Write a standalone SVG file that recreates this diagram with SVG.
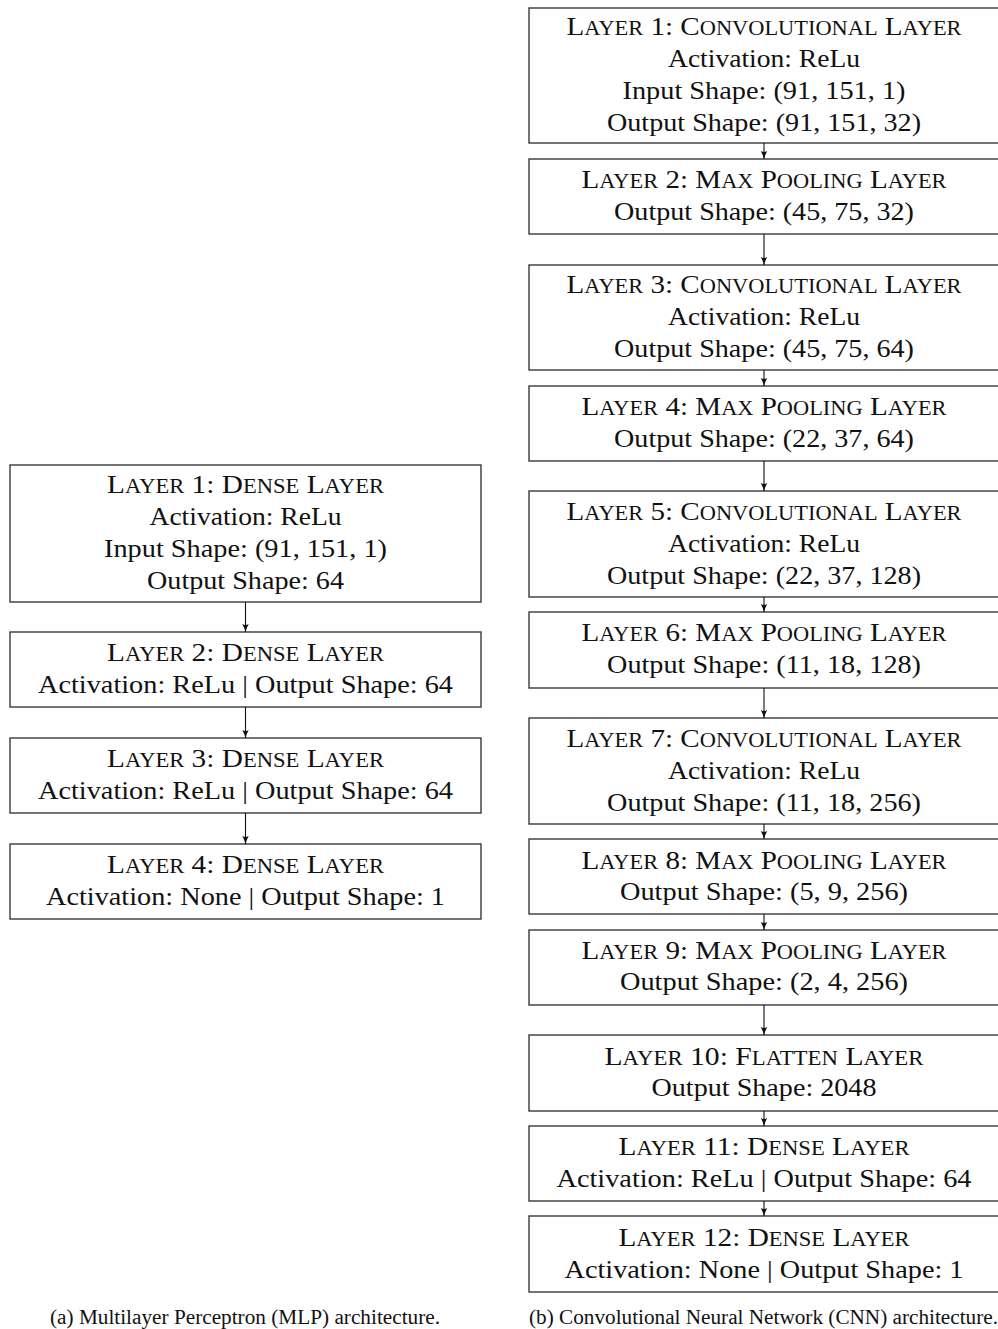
<svg xmlns="http://www.w3.org/2000/svg" width="998" height="1329" viewBox="0 0 998 1329">
<style>
.box{fill:#fff;stroke:#3a3a3a;stroke-width:1.4}
text{font-family:"Liberation Serif","Times New Roman",serif;fill:#111;text-anchor:middle}
.t{font-size:26px}
.sc{font-size:20px}
.cap{font-size:20px}
.conn line{stroke:#111;stroke-width:1.1}
</style>
<defs>
<marker id="ah" viewBox="0 0 8 8" refX="8" refY="4" markerWidth="8" markerHeight="8" markerUnits="userSpaceOnUse" orient="auto">
<path d="M0,0.8 Q4,3 8,4 Q4,5 0,7.2 Q2,4 0,0.8 Z" fill="#111"/>
</marker>
</defs>
<rect x="0" y="0" width="998" height="1329" fill="#fff"/>

<!-- MLP -->
<g id="mlp1"><rect class="box" x="10" y="465" width="471" height="137"/>
<text class="t" x="245.5" y="493" textLength="277" lengthAdjust="spacingAndGlyphs">L<tspan class="sc">AYER</tspan> 1:  D<tspan class="sc">ENSE</tspan> L<tspan class="sc">AYER</tspan></text>
<text class="t" x="245.5" y="525" textLength="192" lengthAdjust="spacingAndGlyphs">Activation:  ReLu</text>
<text class="t" x="245.5" y="557" textLength="283" lengthAdjust="spacingAndGlyphs">Input Shape:  (91, 151, 1)</text>
<text class="t" x="245.5" y="589" textLength="197" lengthAdjust="spacingAndGlyphs">Output Shape:  64</text></g>
<g id="mlp2"><rect class="box" x="10" y="632" width="471" height="75"/>
<text class="t" x="245.5" y="661" textLength="277" lengthAdjust="spacingAndGlyphs">L<tspan class="sc">AYER</tspan> 2:  D<tspan class="sc">ENSE</tspan> L<tspan class="sc">AYER</tspan></text>
<text class="t" x="245.5" y="693" textLength="415" lengthAdjust="spacingAndGlyphs">Activation:  ReLu | Output Shape:  64</text></g>
<g id="mlp3"><rect class="box" x="10" y="738" width="471" height="75"/>
<text class="t" x="245.5" y="767" textLength="277" lengthAdjust="spacingAndGlyphs">L<tspan class="sc">AYER</tspan> 3:  D<tspan class="sc">ENSE</tspan> L<tspan class="sc">AYER</tspan></text>
<text class="t" x="245.5" y="799" textLength="415" lengthAdjust="spacingAndGlyphs">Activation:  ReLu | Output Shape:  64</text></g>
<g id="mlp4"><rect class="box" x="10" y="844" width="471" height="75"/>
<text class="t" x="245.5" y="873" textLength="277" lengthAdjust="spacingAndGlyphs">L<tspan class="sc">AYER</tspan> 4:  D<tspan class="sc">ENSE</tspan> L<tspan class="sc">AYER</tspan></text>
<text class="t" x="245.5" y="905" textLength="399" lengthAdjust="spacingAndGlyphs">Activation:  None | Output Shape:  1</text></g>

<!-- CNN -->
<g id="cnn1"><rect class="box" x="529" y="8" width="470" height="135"/>
<text class="t" x="764" y="35" textLength="395" lengthAdjust="spacingAndGlyphs">L<tspan class="sc">AYER</tspan> 1:  C<tspan class="sc">ONVOLUTIONAL</tspan> L<tspan class="sc">AYER</tspan></text>
<text class="t" x="764" y="67" textLength="192" lengthAdjust="spacingAndGlyphs">Activation:  ReLu</text>
<text class="t" x="764" y="99" textLength="283" lengthAdjust="spacingAndGlyphs">Input Shape:  (91, 151, 1)</text>
<text class="t" x="764" y="131" textLength="314" lengthAdjust="spacingAndGlyphs">Output Shape:  (91, 151, 32)</text></g>
<g id="cnn2"><rect class="box" x="529" y="159" width="470" height="75"/>
<text class="t" x="764" y="188" textLength="365" lengthAdjust="spacingAndGlyphs">L<tspan class="sc">AYER</tspan> 2:  M<tspan class="sc">AX</tspan> P<tspan class="sc">OOLING</tspan> L<tspan class="sc">AYER</tspan></text>
<text class="t" x="764" y="220" textLength="300" lengthAdjust="spacingAndGlyphs">Output Shape:  (45, 75, 32)</text></g>
<g id="cnn3"><rect class="box" x="529" y="265" width="470" height="105"/>
<text class="t" x="764" y="293" textLength="395" lengthAdjust="spacingAndGlyphs">L<tspan class="sc">AYER</tspan> 3:  C<tspan class="sc">ONVOLUTIONAL</tspan> L<tspan class="sc">AYER</tspan></text>
<text class="t" x="764" y="325" textLength="192" lengthAdjust="spacingAndGlyphs">Activation:  ReLu</text>
<text class="t" x="764" y="357" textLength="300" lengthAdjust="spacingAndGlyphs">Output Shape:  (45, 75, 64)</text></g>
<g id="cnn4"><rect class="box" x="529" y="386" width="470" height="75"/>
<text class="t" x="764" y="415" textLength="365" lengthAdjust="spacingAndGlyphs">L<tspan class="sc">AYER</tspan> 4:  M<tspan class="sc">AX</tspan> P<tspan class="sc">OOLING</tspan> L<tspan class="sc">AYER</tspan></text>
<text class="t" x="764" y="447" textLength="300" lengthAdjust="spacingAndGlyphs">Output Shape:  (22, 37, 64)</text></g>
<g id="cnn5"><rect class="box" x="529" y="491" width="470" height="106"/>
<text class="t" x="764" y="520" textLength="395" lengthAdjust="spacingAndGlyphs">L<tspan class="sc">AYER</tspan> 5:  C<tspan class="sc">ONVOLUTIONAL</tspan> L<tspan class="sc">AYER</tspan></text>
<text class="t" x="764" y="552" textLength="192" lengthAdjust="spacingAndGlyphs">Activation:  ReLu</text>
<text class="t" x="764" y="584" textLength="314" lengthAdjust="spacingAndGlyphs">Output Shape:  (22, 37, 128)</text></g>
<g id="cnn6"><rect class="box" x="529" y="612" width="470" height="76"/>
<text class="t" x="764" y="641" textLength="365" lengthAdjust="spacingAndGlyphs">L<tspan class="sc">AYER</tspan> 6:  M<tspan class="sc">AX</tspan> P<tspan class="sc">OOLING</tspan> L<tspan class="sc">AYER</tspan></text>
<text class="t" x="764" y="673" textLength="314" lengthAdjust="spacingAndGlyphs">Output Shape:  (11, 18, 128)</text></g>
<g id="cnn7"><rect class="box" x="529" y="718" width="470" height="106"/>
<text class="t" x="764" y="747" textLength="395" lengthAdjust="spacingAndGlyphs">L<tspan class="sc">AYER</tspan> 7:  C<tspan class="sc">ONVOLUTIONAL</tspan> L<tspan class="sc">AYER</tspan></text>
<text class="t" x="764" y="779" textLength="192" lengthAdjust="spacingAndGlyphs">Activation:  ReLu</text>
<text class="t" x="764" y="811" textLength="314" lengthAdjust="spacingAndGlyphs">Output Shape:  (11, 18, 256)</text></g>
<g id="cnn8"><rect class="box" x="529" y="839" width="470" height="75"/>
<text class="t" x="764" y="869" textLength="365" lengthAdjust="spacingAndGlyphs">L<tspan class="sc">AYER</tspan> 8:  M<tspan class="sc">AX</tspan> P<tspan class="sc">OOLING</tspan> L<tspan class="sc">AYER</tspan></text>
<text class="t" x="764" y="900" textLength="288" lengthAdjust="spacingAndGlyphs">Output Shape:  (5, 9, 256)</text></g>
<g id="cnn9"><rect class="box" x="529" y="930" width="470" height="75"/>
<text class="t" x="764" y="959" textLength="365" lengthAdjust="spacingAndGlyphs">L<tspan class="sc">AYER</tspan> 9:  M<tspan class="sc">AX</tspan> P<tspan class="sc">OOLING</tspan> L<tspan class="sc">AYER</tspan></text>
<text class="t" x="764" y="990" textLength="288" lengthAdjust="spacingAndGlyphs">Output Shape:  (2, 4, 256)</text></g>
<g id="cnn10"><rect class="box" x="529" y="1035" width="470" height="76"/>
<text class="t" x="764" y="1065" textLength="319" lengthAdjust="spacingAndGlyphs">L<tspan class="sc">AYER</tspan> 10:  F<tspan class="sc">LATTEN</tspan> L<tspan class="sc">AYER</tspan></text>
<text class="t" x="764" y="1096" textLength="225" lengthAdjust="spacingAndGlyphs">Output Shape:  2048</text></g>
<g id="cnn11"><rect class="box" x="529" y="1126" width="470" height="75"/>
<text class="t" x="764" y="1155" textLength="291" lengthAdjust="spacingAndGlyphs">L<tspan class="sc">AYER</tspan> 11:  D<tspan class="sc">ENSE</tspan> L<tspan class="sc">AYER</tspan></text>
<text class="t" x="764" y="1187" textLength="415" lengthAdjust="spacingAndGlyphs">Activation:  ReLu | Output Shape:  64</text></g>
<g id="cnn12"><rect class="box" x="529" y="1216" width="470" height="76"/>
<text class="t" x="764" y="1246" textLength="291" lengthAdjust="spacingAndGlyphs">L<tspan class="sc">AYER</tspan> 12:  D<tspan class="sc">ENSE</tspan> L<tspan class="sc">AYER</tspan></text>
<text class="t" x="764" y="1278" textLength="399" lengthAdjust="spacingAndGlyphs">Activation:  None | Output Shape:  1</text></g>

<g id="connectors" class="conn">
<line x1="245.5" y1="602" x2="245.5" y2="632" marker-end="url(#ah)"/>
<line x1="245.5" y1="707" x2="245.5" y2="738" marker-end="url(#ah)"/>
<line x1="245.5" y1="813" x2="245.5" y2="844" marker-end="url(#ah)"/>
<line x1="764" y1="143" x2="764" y2="159" marker-end="url(#ah)"/>
<line x1="764" y1="234" x2="764" y2="265" marker-end="url(#ah)"/>
<line x1="764" y1="370" x2="764" y2="386" marker-end="url(#ah)"/>
<line x1="764" y1="461" x2="764" y2="491" marker-end="url(#ah)"/>
<line x1="764" y1="597" x2="764" y2="612" marker-end="url(#ah)"/>
<line x1="764" y1="688" x2="764" y2="718" marker-end="url(#ah)"/>
<line x1="764" y1="824" x2="764" y2="839" marker-end="url(#ah)"/>
<line x1="764" y1="914" x2="764" y2="930" marker-end="url(#ah)"/>
<line x1="764" y1="1005" x2="764" y2="1035" marker-end="url(#ah)"/>
<line x1="764" y1="1111" x2="764" y2="1126" marker-end="url(#ah)"/>
<line x1="764" y1="1201" x2="764" y2="1216" marker-end="url(#ah)"/>
</g>

<text class="cap" x="245" y="1324" textLength="390" lengthAdjust="spacingAndGlyphs">(a)  Multilayer Perceptron (MLP) architecture.</text>
<text class="cap" x="763.5" y="1324" textLength="469" lengthAdjust="spacingAndGlyphs">(b)  Convolutional Neural Network (CNN) architecture.</text>
</svg>
